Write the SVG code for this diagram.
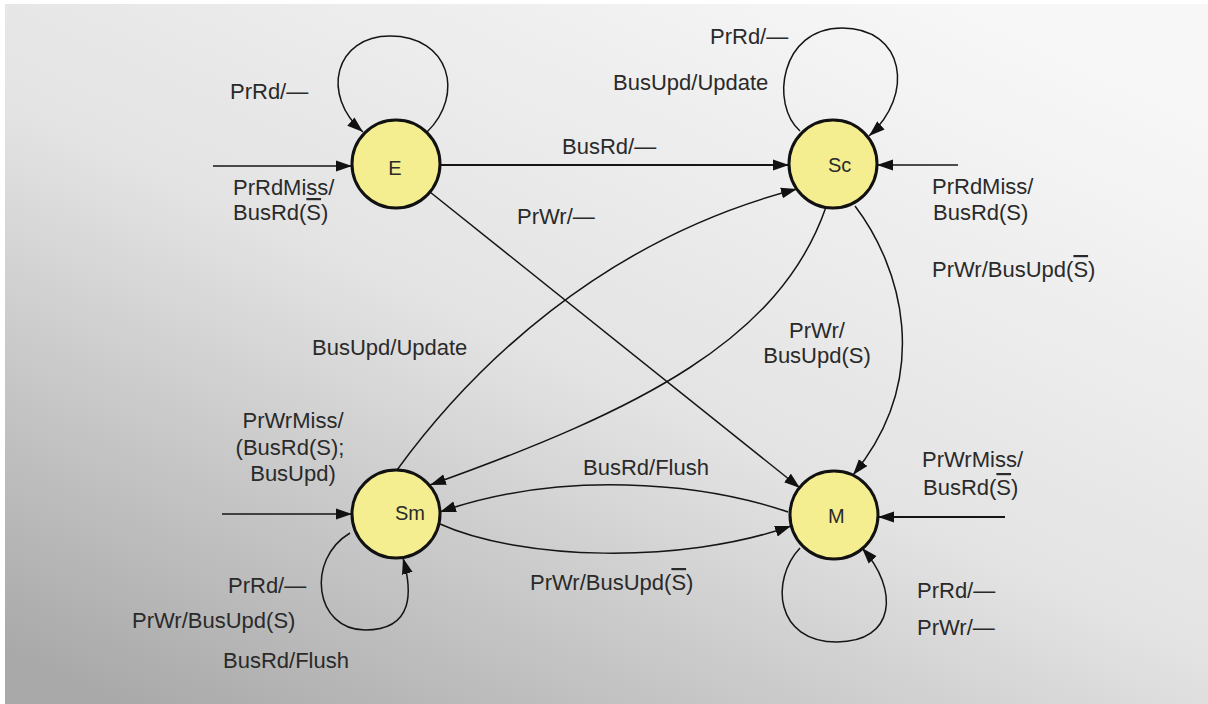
<svg xmlns="http://www.w3.org/2000/svg" width="1208" height="704" viewBox="0 0 1208 704">
<defs>
<linearGradient id="bg" x1="0.85" y1="0.05" x2="0.1" y2="1">
<stop offset="0" stop-color="#f7f7f7"/>
<stop offset="0.5" stop-color="#e3e3e3"/>
<stop offset="1" stop-color="#a9a9a9"/>
</linearGradient>
<marker id="ah" markerUnits="userSpaceOnUse" markerWidth="18" markerHeight="12" refX="16" refY="6" orient="auto">
<path d="M0,0.5 L16,6 L0,11.5 z" fill="#111"/>
</marker>
</defs>
<style>
.st{fill:#f4ee90;stroke:#111;stroke-width:3}
.nl{font-family:"Liberation Sans",Arial,sans-serif;font-size:20px;fill:#2a2a2a}
.lb{font-family:"Liberation Sans",Arial,sans-serif;font-size:22px;fill:#2a2a2a}
.ed{fill:none;stroke:#151515;stroke-width:1.5}
.ed2{fill:none;stroke:#151515;stroke-width:2.2}
.ov{text-decoration:overline}
</style>
<rect x="0" y="0" width="1208" height="704" fill="url(#bg)"/>
<rect x="0" y="0" width="5" height="704" fill="#ffffff"/>
<rect x="0" y="0" width="1208" height="4" fill="#ffffff"/>

<g id="connectors">
<path class="ed" d="M427,132 C465,95 450,36 390,36 C335,36 320,95 363,132" marker-end="url(#ah)"/>
<path class="ed" d="M213,166 L352,166" marker-end="url(#ah)"/>
<path class="ed2" d="M440,165 L789,165" marker-end="url(#ah)"/>
<path class="ed" d="M430,192 L800,488" marker-end="url(#ah)"/>
<path class="ed" d="M800,131 C770,105 780,28 842,28 C905,28 915,95 869,136" marker-end="url(#ah)"/>
<path class="ed" d="M958,165 L877,165" marker-end="url(#ah)"/>
<path class="ed" d="M855,206 C900,265 935,375 853,475" marker-end="url(#ah)"/>
<path class="ed" d="M826,207 C780,340 640,410 430,485" marker-end="url(#ah)"/>
<path class="ed" d="M397,470 C470,370 600,240 797,189" marker-end="url(#ah)"/>
<path class="ed" d="M788,512 C700,482 560,470 440,512" marker-end="url(#ah)"/>
<path class="ed" d="M440,524 C520,560 680,565 791,526" marker-end="url(#ah)"/>
<path class="ed" d="M222,514 L352,514" marker-end="url(#ah)"/>
<path class="ed" d="M350,533 C305,560 315,630 365,630 C415,630 412,590 403,558" marker-end="url(#ah)"/>
<path class="ed2" d="M1005,517 L878,517" marker-end="url(#ah)"/>
<path class="ed" d="M800,548 C770,580 775,642 837,642 C895,642 900,590 862,548" marker-end="url(#ah)"/>
</g>

<g id="labels">
<text class="lb" x="230" y="99">PrRd/—</text>
<text class="lb" x="233" y="195">PrRdMiss/</text>
<text class="lb" x="233" y="220">BusRd(<tspan class="ov">S</tspan>)</text>
<text class="lb" x="562" y="154">BusRd/—</text>
<text class="lb" x="517" y="224">PrWr/—</text>
<text class="lb" x="710" y="44">PrRd/—</text>
<text class="lb" x="613" y="90">BusUpd/Update</text>
<text class="lb" x="932" y="194">PrRdMiss/</text>
<text class="lb" x="933" y="220">BusRd(S)</text>
<text class="lb" x="932" y="277">PrWr/BusUpd(<tspan class="ov">S</tspan>)</text>
<text class="lb" x="312" y="355">BusUpd/Update</text>
<text class="lb" x="817" y="338" text-anchor="middle">PrWr/</text>
<text class="lb" x="817" y="363" text-anchor="middle">BusUpd(S)</text>
<text class="lb" x="293" y="428" text-anchor="middle">PrWrMiss/</text>
<text class="lb" x="290" y="455" text-anchor="middle">(BusRd(S);</text>
<text class="lb" x="293" y="481" text-anchor="middle">BusUpd)</text>
<text class="lb" x="583" y="475">BusRd/Flush</text>
<text class="lb" x="922" y="467">PrWrMiss/</text>
<text class="lb" x="923" y="495">BusRd(<tspan class="ov">S</tspan>)</text>
<text class="lb" x="530" y="590">PrWr/BusUpd(<tspan class="ov">S</tspan>)</text>
<text class="lb" x="228" y="593">PrRd/—</text>
<text class="lb" x="132" y="628">PrWr/BusUpd(S)</text>
<text class="lb" x="223" y="668">BusRd/Flush</text>
<text class="lb" x="917" y="598">PrRd/—</text>
<text class="lb" x="917" y="635">PrWr/—</text>
</g>

<g id="node-E"><circle class="st" cx="396" cy="164" r="44"/><text class="nl" x="395" y="175" text-anchor="middle">E</text></g>
<g id="node-Sc"><circle class="st" cx="833" cy="164" r="44"/><text class="nl" x="828" y="172">Sc</text></g>
<g id="node-Sm"><circle class="st" cx="396" cy="514" r="44"/><text class="nl" x="395" y="520">Sm</text></g>
<g id="node-M"><circle class="st" cx="834" cy="515" r="44"/><text class="nl" x="828" y="523">M</text></g>
</svg>
